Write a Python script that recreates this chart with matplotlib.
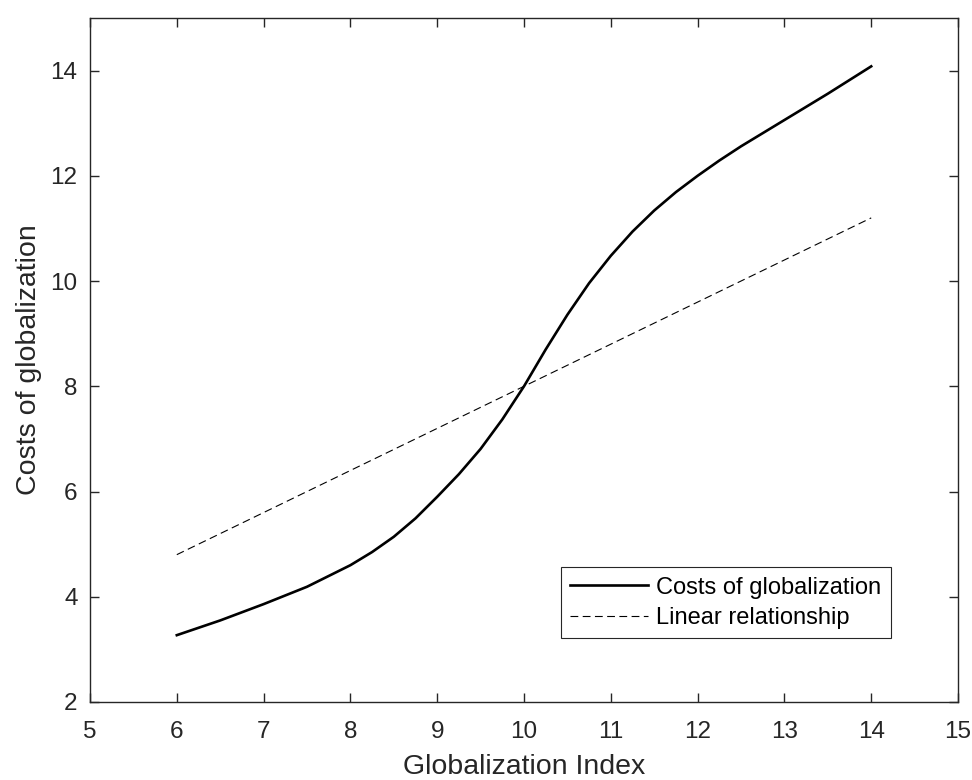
import matplotlib
matplotlib.use("Agg")
import matplotlib.pyplot as plt

# Values
glob_index = [6.0, 6.5, 7.0, 7.5, 8.0, 8.25, 8.5, 8.75, 9.0, 9.25, 9.5, 9.75,
              10.0, 10.25, 10.5, 10.75, 11.0, 11.25, 11.5, 11.75, 12.0, 12.25,
              12.5, 12.75, 13.0, 13.25, 13.5, 13.75, 14.0]
costs = [3.27, 3.55, 3.86, 4.19, 4.60, 4.85, 5.14, 5.49, 5.90, 6.33, 6.81, 7.37,
         8.00, 8.70, 9.36, 9.96, 10.48, 10.94, 11.34, 11.69, 12.00, 12.29,
         12.56, 12.81, 13.06, 13.31, 13.56, 13.82, 14.08]
lin_x = [6, 14]
lin_y = [4.8, 11.2]

txt = '#262626'
plt.rcParams['font.family'] = ['Liberation Sans', 'DejaVu Sans']

fig = plt.figure(figsize=(9.72, 7.8), dpi=100, facecolor='white')
ax = fig.add_axes([0.0926, 0.1, 0.8930, 0.877])

ax.plot(glob_index, costs, color='black', lw=1.9, label='Costs of globalization')
ax.plot(lin_x, lin_y, color='black', lw=0.8, dashes=[7, 4], label='Linear relationship')

ax.set_xlim(5, 15)
ax.set_ylim(2, 15)
ax.set_xticks(range(5, 16))
ax.set_yticks(range(2, 15, 2))

for s in ax.spines.values():
    s.set_color(txt)
    s.set_linewidth(1.0)
ax.tick_params(direction='in', length=6.5, width=1.0, colors=txt, labelsize=17.5,
               top=True, right=True)
ax.tick_params(axis='x', pad=13.5)
ax.tick_params(axis='y', pad=9)
ax.set_xlabel('Globalization Index', fontsize=20.5, color=txt, labelpad=8)
ax.set_ylabel('Costs of globalization', fontsize=20.5, color=txt, labelpad=6)

leg = ax.legend(loc='lower left', bbox_to_anchor=(0.5426, 0.0931), borderaxespad=0,
                fontsize=17, fancybox=False, framealpha=1, edgecolor=txt,
                handlelength=3.3, handletextpad=0.34, borderpad=0.4, labelspacing=0.35)
leg.get_frame().set_linewidth(0.8)
for t in leg.get_texts():
    t.set_color('black')

fig.savefig('out.png', dpi=100, facecolor='white')
